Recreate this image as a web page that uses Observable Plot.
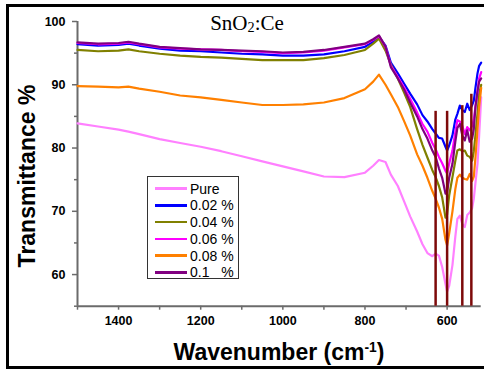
<!DOCTYPE html>
<html>
<head>
<meta charset="utf-8">
<script src="https://cdn.jsdelivr.net/npm/d3@7"></script>
<script src="https://cdn.jsdelivr.net/npm/@observablehq/plot@0.6"></script>
<style>
  body { margin: 0; background: #fff; overflow: hidden; }
  #wrap { position: relative; width: 484px; height: 369px; overflow: hidden; font-family: "Liberation Sans", Arial, sans-serif; }
  #frame { position: absolute; left: 6px; top: 4px; width: 500px; height: 359px; border: 3px solid #000; pointer-events: none; }
  #title { position: absolute; left: 247px; top: 24px; transform: translate(-50%, -50%); font-family: "Liberation Serif", "DejaVu Serif", serif; font-size: 21px; line-height: 1; white-space: nowrap; }
  #title sub { font-size: 0.68em; vertical-align: -0.15em; }
  #ylabel { position: absolute; left: 27px; top: 176px; transform: translate(-50%, -50%) rotate(-90deg); font-weight: bold; font-size: 23px; line-height: 1; white-space: nowrap; }
  #xlabel { position: absolute; left: 279px; top: 352px; transform: translate(-50%, -50%); font-weight: bold; font-size: 23px; line-height: 1; white-space: nowrap; }
  #xlabel sup { font-size: 0.6em; vertical-align: 0.55em; }
  #legend { position: absolute; left: 147px; top: 176px; width: 92px; height: 103px; border: 1px solid #333; background: #fff; box-sizing: border-box; }
  .row { position: absolute; left: 0; height: 16px; display: flex; align-items: center; }
  .swatch { width: 32px; height: 2.5px; margin-left: 7px; margin-right: 3px; }
  .lab { font-size: 14px; line-height: 1; white-space: pre; }
</style>
</head>
<body>
<div id="wrap">
  <div id="chart"></div>
  <div id="title">SnO<sub>2</sub>:Ce</div>
  <div id="ylabel">Transmittance %</div>
  <div id="xlabel">Wavenumber (cm<sup>-1</sup>)</div>
  <div id="legend"></div>
  <div id="frame"></div>
</div>
<script>
// Wavenumber sampling (cm^-1), shared by every spectrum
const wavenumbers = [1500, 1450, 1400, 1376, 1350, 1300, 1250, 1200, 1150, 1100,
  1050, 1000, 950, 900, 850, 800, 780, 766, 750, 737,
  720, 705, 690, 673, 660, 648, 636, 628, 620, 612,
  604, 600, 595, 587, 580, 575, 569, 563, 557, 551,
  545, 539, 535, 531, 526, 522, 517];

// Transmittance (%) of each sample
const pure = [83.9, 83.4, 82.9, 82.6, 82.2, 81.4, 80.8, 80.2, 79.5, 78.7,
  77.9, 77.1, 76.3, 75.5, 75.4, 76.1, 77.2, 78.1, 77.8, 75.8,
  74.0, 71.6, 69.2, 66.8, 64.8, 63.4, 62.9, 63.3, 63.0, 61.2,
  58.5, 57.3, 58.2, 61.5, 66.0, 68.8, 69.3, 68.0, 67.5, 69.4,
  69.8, 70.5, 72.0, 74.5, 77.5, 82.0, 88.0];
const ce002 = [96.4, 96.2, 96.3, 96.5, 96.2, 95.7, 95.4, 95.3, 95.1, 94.9,
  94.8, 94.6, 94.6, 94.8, 95.3, 96.0, 96.8, 97.6, 96.2, 93.5,
  91.8, 90.2, 88.6, 86.9, 85.2, 84.2, 83.0, 82.3, 81.6, 81.5,
  80.2, 79.6, 80.4, 82.0, 84.5, 85.4, 86.7, 86.0, 85.7, 87.0,
  86.0, 86.8, 87.5, 89.5, 91.8, 93.0, 93.5];
const ce004 = [95.5, 95.3, 95.4, 95.6, 95.3, 94.9, 94.6, 94.4, 94.3, 94.1,
  93.9, 93.9, 93.9, 94.2, 94.7, 95.5, 96.5, 97.3, 95.4, 93.2,
  91.0, 88.8, 86.5, 83.0, 80.5, 78.5, 76.5, 75.4, 74.0, 72.2,
  69.0, 69.5, 72.5, 75.4, 78.0, 79.6, 79.8, 79.5, 79.6, 78.8,
  78.6, 78.0, 79.5, 82.0, 85.5, 88.5, 90.0];
const ce006 = [96.6, 96.4, 96.5, 96.7, 96.4, 95.9, 95.7, 95.6, 95.5, 95.3,
  95.2, 95.0, 95.1, 95.4, 95.9, 96.4, 97.1, 97.7, 96.0, 93.0,
  91.2, 89.6, 87.8, 85.6, 83.8, 82.6, 80.8, 79.8, 78.6, 77.6,
  76.4, 76.0, 77.5, 79.6, 82.5, 84.4, 84.2, 83.5, 82.2, 83.3,
  82.8, 83.5, 84.5, 86.5, 88.8, 91.0, 92.0];
const ce008 = [89.8, 89.7, 89.6, 89.7, 89.4, 88.9, 88.3, 88.0, 87.6, 87.2,
  86.8, 86.8, 86.9, 87.2, 87.9, 89.3, 90.5, 91.6, 90.0, 88.5,
  86.5, 84.3, 82.0, 79.0, 77.2, 75.3, 73.2, 72.0, 70.6, 68.8,
  65.5, 64.6, 66.5, 70.0, 73.5, 75.3, 75.8, 75.3, 75.1, 75.0,
  75.9, 74.8, 75.5, 78.5, 83.0, 86.5, 89.5];
const ce01 = [96.7, 96.5, 96.6, 96.8, 96.5, 96.0, 95.8, 95.6, 95.5, 95.4,
  95.3, 95.1, 95.2, 95.5, 96.0, 96.5, 97.2, 97.8, 96.0, 92.8,
  91.0, 89.3, 87.2, 85.0, 83.0, 81.5, 79.6, 78.6, 76.8, 75.3,
  72.8, 73.0, 75.3, 77.5, 81.0, 83.2, 83.8, 82.0, 81.2, 82.8,
  81.0, 81.5, 83.0, 86.5, 89.0, 90.5, 91.0];

const seriesNames = ["Pure", "0.02 %", "0.04 %", "0.06 %", "0.08 %", "0.1\u00a0\u00a0\u00a0%"];
const seriesValues = [pure, ce002, ce004, ce006, ce008, ce01];
const seriesColors = ["#ff80ff", "#0000ff", "#808000", "#ff00ff", "#ff8000", "#800080"];

// Marked absorption bands
const bandWn = [628, 600, 563, 541];
const bandTop = [85.8, 85.8, 86.7, 88.5];

// Axis ticks
const xMajor = [1400, 1200, 1000, 800, 600];
const xMinor = [1500, 1300, 1100, 900, 700];
const yMajor = [60, 70, 80, 90, 100];
const yMinor = [55, 65, 75, 85, 95];

const rows = seriesNames.flatMap((name, i) =>
  wavenumbers.map((w, j) => ({series: name, wn: w, t: seriesValues[i][j]})));
const bands = bandWn.map((w, i) => ({wn: w, top: bandTop[i]}));

const axisGray = "#6b6b6b";
const plain = d => String(d);

const chart = Plot.plot({
  width: 484,
  height: 369,
  marginLeft: 77,
  marginRight: 3.3,
  marginTop: 21,
  marginBottom: 63.3,
  style: {background: "transparent", fontFamily: "'Liberation Sans', Arial, sans-serif"},
  x: {domain: [1500, 517]},
  y: {domain: [55, 100]},
  color: {domain: seriesNames, range: seriesColors},
  marks: [
    Plot.axisX({ticks: xMajor, tickFormat: plain, tickSize: 4, tickPadding: 6, stroke: axisGray, strokeWidth: 1.5, fill: "#000", fontSize: 12.5, fontWeight: "bold", label: null}),
    Plot.axisX({ticks: xMinor, tickSize: 4, text: null, stroke: axisGray, strokeWidth: 1.5, label: null}),
    Plot.axisY({ticks: yMajor, tickFormat: plain, tickSize: 5, tickPadding: 7, stroke: axisGray, strokeWidth: 1.5, fill: "#000", fontSize: 12.5, fontWeight: "bold", label: null}),
    Plot.axisY({ticks: yMinor, tickSize: 3, text: null, stroke: axisGray, strokeWidth: 1.5, label: null}),
    Plot.ruleY([55], {stroke: axisGray, strokeWidth: 2}),
    Plot.ruleX([1500], {stroke: axisGray, strokeWidth: 2}),
    Plot.line(rows, {x: "wn", y: "t", z: "series", stroke: "series", strokeWidth: 2.2, strokeLinejoin: "round"}),
    Plot.ruleX(bands, {x: "wn", y1: 55, y2: "top", stroke: "#7d0a0a", strokeWidth: 2.5})
  ]
});
document.getElementById("chart").appendChild(chart);

// Legend box
const legend = document.getElementById("legend");
seriesNames.forEach((name, i) => {
  const row = document.createElement("div");
  row.className = "row";
  row.style.top = (3.5 + i * 16.75) + "px";
  const sw = document.createElement("div");
  sw.className = "swatch";
  sw.style.background = seriesColors[i];
  const lab = document.createElement("span");
  lab.className = "lab";
  lab.textContent = name;
  row.appendChild(sw);
  row.appendChild(lab);
  legend.appendChild(row);
});
</script>
</body>
</html>
